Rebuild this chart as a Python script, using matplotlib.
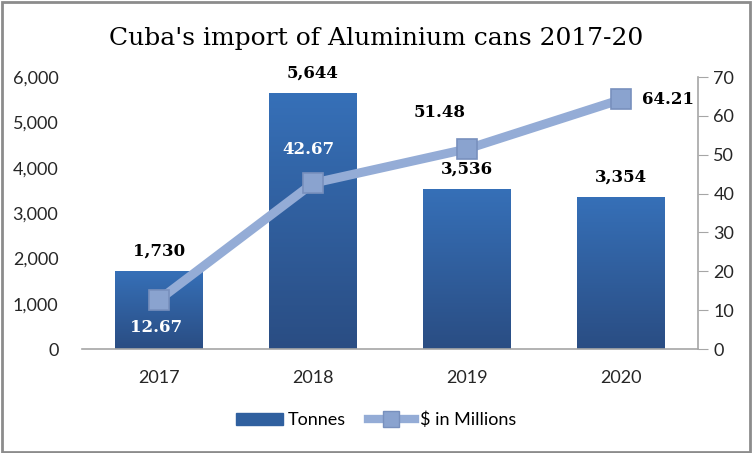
import numpy as np
import matplotlib
matplotlib.use("Agg")
import matplotlib.pyplot as plt
from matplotlib.patches import Rectangle
from matplotlib.lines import Line2D

years = ["2017", "2018", "2019", "2020"]
tonnes = [1730, 5644, 3536, 3354]
usd_millions = [12.67, 42.67, 51.48, 64.21]
tonne_labels = ["1,730", "5,644", "3,536", "3,354"]
usd_labels = ["12.67", "42.67", "51.48", "64.21"]

W, H = 752, 453
fig = plt.figure(figsize=(W / 100, H / 100), dpi=100)
fig.patch.set_facecolor("white")

# chart border
fig.add_artist(Rectangle((0.002, 0.003), 0.995, 0.993, transform=fig.transFigure,
                         fill=False, edgecolor="#8c8c8c", linewidth=2))

ax = fig.add_axes([82 / W, (H - 349) / H, 616 / W, (349 - 77) / H])
ax2 = ax.twinx()

x = np.arange(len(years))
bars = ax.bar(x, tonnes, width=0.57, color="#30609f", zorder=2)

# vertical gradient on the bars
grad = np.linspace(0, 1, 256).reshape(-1, 1)
cmap = matplotlib.colors.LinearSegmentedColormap.from_list("bg", ["#2a4d83", "#3670b8"])
for b in bars:
    x0, w, h = b.get_x(), b.get_width(), b.get_height()
    im = ax.imshow(grad, extent=[x0, x0 + w, 0, h], origin="lower", aspect="auto",
                   cmap=cmap, zorder=2)
    im.set_clip_path(b)

ax.set_xlim(-0.5, 3.5)
ax.set_ylim(0, 6000)
ax.set_yticks(np.arange(0, 6001, 1000))
ax.set_yticklabels([f"{v:,}" for v in range(0, 6001, 1000)])
ax.set_xticks(x)
ax.set_xticklabels(years)

ax2.plot(x, usd_millions, color="#94acd6", linewidth=6.5, marker="s", markersize=15,
         markerfacecolor="#8aa3cf", markeredgecolor="#7890bd", markeredgewidth=1.2,
         zorder=3, solid_capstyle="butt")
ax2.set_ylim(0, 70)
ax2.set_yticks(np.arange(0, 71, 10))

for a in (ax, ax2):
    for s in ("top", "left", "right", "bottom"):
        a.spines[s].set_visible(False)
ax.spines["bottom"].set_visible(True)
ax.spines["bottom"].set_color("#a6a6a6")
ax.spines["bottom"].set_linewidth(1.2)
ax2.spines["right"].set_visible(True)
ax2.spines["right"].set_color("#a6a6a6")
ax2.spines["right"].set_linewidth(1.2)

ax.tick_params(axis="y", length=0, pad=17, labelsize=13)
ax.tick_params(axis="x", length=0, pad=15, labelsize=13)
ax2.tick_params(axis="y", length=7, color="#a6a6a6", pad=4, labelsize=13)
for lab in ax.get_xticklabels() + ax.get_yticklabels() + ax2.get_yticklabels():
    lab.set_fontfamily("Lato")
    lab.set_color("#262626")

ax.set_zorder(1)
ax2.set_zorder(2)
ax.patch.set_visible(False)

lab_font = dict(family="DejaVu Serif", weight="bold", size=12)
for xi, v, t in zip(x, tonnes, tonne_labels):
    ax.annotate(t, (xi, v), xytext=(0, 8), textcoords="offset points",
                ha="center", va="bottom", color="black", **lab_font)

usd_offsets = [(-2, -14, "top", "white"), (-3, 18, "bottom", "white"),
               (-20, 20, "bottom", "black"), (34, 0, "center", "black")]
for xi, v, t, (dx, dy, va, c) in zip(x, usd_millions, usd_labels, usd_offsets):
    ax2.annotate(t, (xi, v), xytext=(dx, dy), textcoords="offset points",
                 ha="center", va=va, color=c, zorder=5, **lab_font)

fig.text(0.5, 1 - 38 / H, "Cuba's import of Aluminium cans 2017-20", ha="center",
         va="center", family="DejaVu Serif", size=18, color="black")

handles = [Rectangle((0, 0), 1, 1, color="#30609f"),
           Line2D([], [], color="#94acd6", linewidth=6, marker="s", markersize=11,
                  markerfacecolor="#8aa3cf", markeredgecolor="#7890bd")]
fig.legend(handles, ["Tonnes", "$ in Millions"], loc="center",
           bbox_to_anchor=(0.5, 1 - 420 / H), ncol=2, frameon=False,
           prop=dict(family="Lato", size=13), handlelength=2.6, columnspacing=1.2,
           handletextpad=0.3)

fig.savefig("out.png", dpi=100)
